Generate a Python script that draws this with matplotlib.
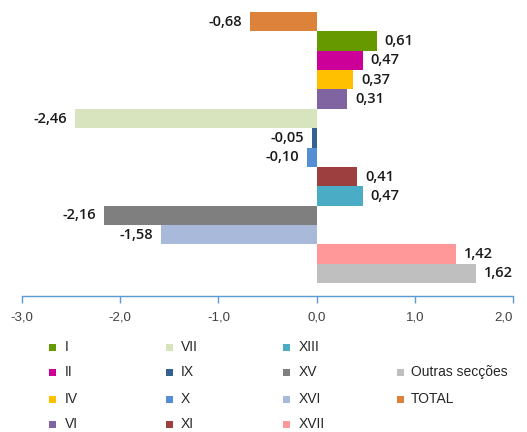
import matplotlib
matplotlib.use("Agg")
import matplotlib.pyplot as plt
from matplotlib.patches import Rectangle
import numpy as np

sections = ["TOTAL", "I", "II", "IV", "VI", "VII", "IX", "X", "XI",
            "XIII", "XV", "XVI", "XVII", "Outras secções"]
values = [-0.68, 0.61, 0.47, 0.37, 0.31, -2.46, -0.05, -0.10, 0.41,
          0.47, -2.16, -1.58, 1.42, 1.62]
colors = ["#DD823B", "#669900", "#CC0099", "#FFC000", "#8064A2", "#D7E4BD",
          "#376092", "#558ED5", "#9E3F3F", "#4BACC6", "#7F7F7F", "#A9B9D9",
          "#FF9999", "#BFBFBF"]
xticks = [-3.0, -2.0, -1.0, 0.0, 1.0, 2.0]
legend_cols = [["I", "II", "IV", "VI"],
               ["VII", "IX", "X", "XI"],
               ["XIII", "XV", "XVI", "XVII"],
               [None, "Outras secções", "TOTAL", None]]

W, H = 527, 432
fig = plt.figure(figsize=(W / 100, H / 100), dpi=100)
ax = fig.add_axes([22 / W, 1 - 296 / H, (513 - 22) / W, 294 / H])

pos = np.arange(len(values))
ax.barh(pos, values, height=1.0, color=colors)
ax.set_xlim(-3, 2)
ax.set_ylim(14.17, -1.02)

for p, v in zip(pos, values):
    txt = f"{v:.2f}".replace(".", ",")
    off = 5.8 if v >= 0 else -5.8
    ax.annotate(txt, (v, p), xytext=(off, 0), textcoords="offset points",
                ha="left" if v >= 0 else "right", va="center",
                fontsize=10.5, color="#1a1a1a", family="Open Sans",
                fontweight="semibold")

for s in ["top", "right", "left"]:
    ax.spines[s].set_visible(False)
ax.spines["bottom"].set_color("#5B9BD5")
ax.spines["bottom"].set_linewidth(1.0)
ax.set_yticks([])
ax.set_xticks(xticks)
ax.set_xticklabels([f"{t:.1f}".replace(".", ",") for t in xticks],
                   fontsize=9.5, color="#404040", family="Liberation Sans")
ax.tick_params(axis="x", direction="out", length=5, width=1,
               color="#5B9BD5", pad=6)
ax.get_xticklabels()[-1].set_ha("right")

col_x = [52, 169, 286, 400]
text_x = [65, 181, 299, 411]
row_y = [347, 372, 399, 424]
cmap = dict(zip(sections, colors))
for ci, col in enumerate(legend_cols):
    for ri, name in enumerate(col):
        if name is None:
            continue
        cx, cy = col_x[ci], row_y[ri]
        fig.patches.append(Rectangle(((cx - 3.5) / W, 1 - (cy + 3.5) / H),
                                     7 / W, 7 / H, transform=fig.transFigure,
                                     facecolor=cmap[name], edgecolor="none"))
        fig.text(text_x[ci] / W, 1 - cy / H, name, ha="left", va="center",
                 fontsize=10, color="#262626", family="Liberation Sans")

fig.savefig("out.png", dpi=100)
